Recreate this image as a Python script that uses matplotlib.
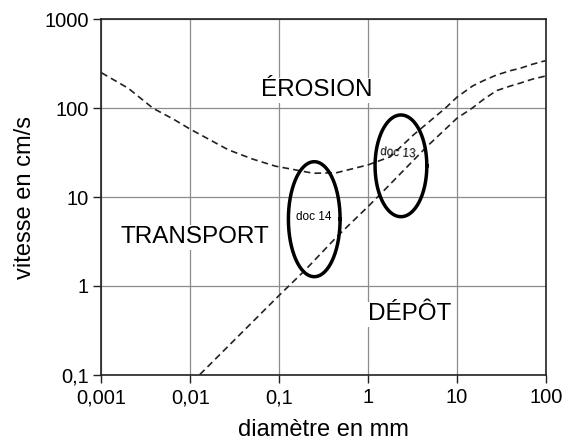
import numpy as np
import matplotlib
matplotlib.use('Agg')
import matplotlib.pyplot as plt

# police proche de Helvetica
plt.rcParams['font.family'] = ['Liberation Sans', 'DejaVu Sans']

# courbe d'érosion (diamètre en mm, vitesse en cm/s)
erosion_d = [0.001, 0.002, 0.0038, 0.0065, 0.01, 0.0268, 0.05, 0.09, 0.243, 0.445, 1.0, 1.78,
             3.24, 5.0, 7.4, 10, 15, 20, 28, 40, 51.6, 70, 100]
erosion_v = [251, 168, 100, 75, 58, 34, 26.8, 22.3, 18.5, 18.8, 23, 28.4,
             50, 72, 100, 133, 178, 205, 237, 265, 282, 312, 344]

# courbe de dépôt
depot_d = [0.0128, 0.1, 0.196, 0.446, 1.0, 1.37, 4.6, 10, 14.8, 20, 28, 40, 51.6, 70, 100]
depot_v = [0.1, 0.78, 1.5, 3.57, 7.8, 10.7, 37, 77, 100, 126, 158, 178, 192, 212, 231]

# ellipses des documents : (xmin, xmax, ymin, ymax)
doc_labels = ['doc 14', 'doc 13']
doc_boxes = [(0.127, 0.485, 1.265, 25.0), (1.20, 4.59, 6.0, 84.0)]
doc_text_pos = [(0.243, 5.9), (2.18, 31.3)]

x_ticks = [0.001, 0.01, 0.1, 1, 10, 100]
x_ticklabels = ['0,001', '0,01', '0,1', '1', '10', '100']
y_ticks = [0.1, 1, 10, 100, 1000]
y_ticklabels = ['0,1', '1', '10', '100', '1000']

fig = plt.figure(figsize=(5.62, 4.43), dpi=100)
ax = fig.add_axes([0.1806, 0.1546, 0.7904, 0.8014])
ax.set_xscale('log')
ax.set_yscale('log')
ax.set_xlim(0.001, 100)
ax.set_ylim(0.1, 1000)

ax.grid(True, which='major', color='#8c8c8c', lw=0.9)
ax.minorticks_off()

dash = (0, (4, 2.5))
ax.plot(erosion_d, erosion_v, color='#222222', lw=1.2, linestyle=dash, zorder=3)
ax.plot(depot_d, depot_v, color='#222222', lw=1.2, linestyle=dash, zorder=3)

# ellipses tracées dans l'espace logarithmique
t = np.linspace(0, 2 * np.pi, 200)
for (x0, x1, y0, y1), lab, (tx, ty) in zip(doc_boxes, doc_labels, doc_text_pos):
    cx, rx = (np.log10(x0) + np.log10(x1)) / 2, (np.log10(x1) - np.log10(x0)) / 2
    cy, ry = (np.log10(y0) + np.log10(y1)) / 2, (np.log10(y1) - np.log10(y0)) / 2
    ax.plot(10 ** (cx + rx * np.cos(t)), 10 ** (cy + ry * np.sin(t)), color='black', lw=2.5, zorder=4)
    rot = -4 if lab == 'doc 13' else 0
    ax.text(tx, ty, lab, fontsize=8.5, ha='center', va='center', rotation=rot, zorder=5)

# zones
box = dict(facecolor='white', edgecolor='none', pad=1)
ax.text(0.265, 137, 'ÉROSION', fontsize=17.5, ha='center', va='baseline', bbox=box, zorder=2)
ax.text(0.0113, 3.0, 'TRANSPORT', fontsize=17.5, ha='center', va='baseline', bbox=box, zorder=2)
ax.text(2.94, 0.41, 'DÉPÔT', fontsize=17.5, ha='center', va='baseline', bbox=box, zorder=2)

ax.set_xticks(x_ticks)
ax.set_xticklabels(x_ticklabels)
ax.set_yticks(y_ticks)
ax.set_yticklabels(y_ticklabels)
ax.tick_params(axis='both', labelsize=14.5, length=6, width=1, color='#222222', direction='out')
ax.tick_params(axis='x', pad=4)
ax.tick_params(axis='y', pad=3)

for s in ax.spines.values():
    s.set_color('#222222')
    s.set_linewidth(1.2)

ax.set_xlabel('diamètre en mm', fontsize=17, labelpad=8)
ax.set_ylabel('vitesse en cm/s', fontsize=17, labelpad=6)

fig.savefig('out.png', dpi=100, facecolor='white')
